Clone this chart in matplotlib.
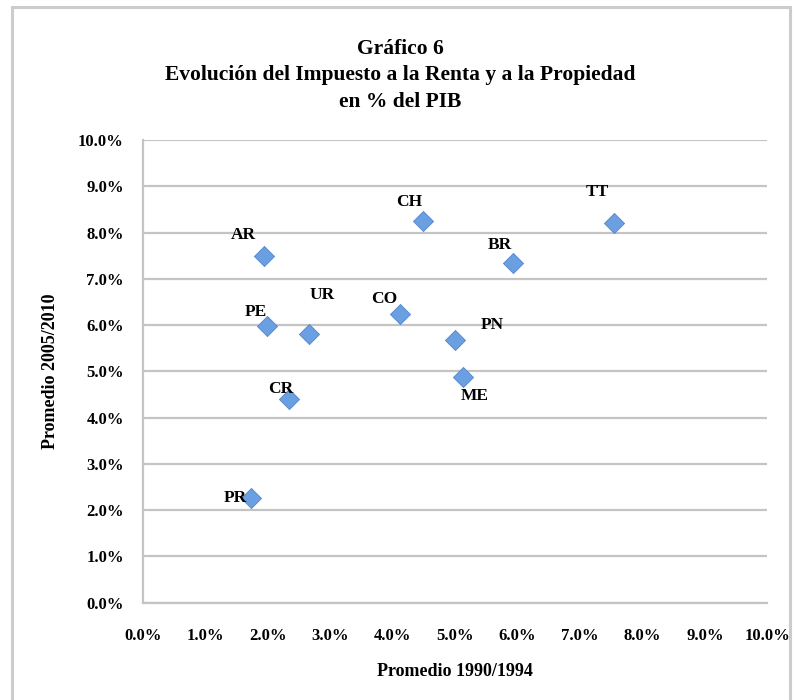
import matplotlib.pyplot as plt
from matplotlib import rc
from matplotlib.patches import Rectangle
from matplotlib.ticker import PercentFormatter

rc('font', family='Liberation Serif', weight='bold')

# Datos: promedio 1990/1994 (x) y promedio 2005/2010 (y), en % del PIB
paises = ['AR', 'CH', 'TT', 'BR', 'PE', 'UR', 'CO', 'PN', 'ME', 'CR', 'PR']
prom_1990_1994 = [1.94, 4.48, 7.54, 5.92, 1.99, 2.66, 4.11, 4.99, 5.12, 2.33, 1.72]
prom_2005_2010 = [7.49, 8.25, 8.21, 7.34, 5.98, 5.81, 6.24, 5.68, 4.88, 4.41, 2.27]

# desplazamiento de cada etiqueta (puntos)
offsets = {'AR': (-15, 15), 'CH': (-10, 14), 'TT': (-12, 22), 'BR': (-9, 13),
           'PE': (-8, 10), 'UR': (9, 28), 'CO': (-11, 11), 'PN': (27, 11),
           'ME': (9, -14), 'CR': (-6, 7), 'PR': (-11, 0)}

fig = plt.figure(figsize=(8, 7), dpi=100)
fig.patches.append(Rectangle((0.015, -0.05), 0.972, 1.04, transform=fig.transFigure,
                             fill=False, edgecolor='#cccccc', linewidth=2.2))

ax = fig.add_axes([0.179, 0.139, 0.780, 0.661])
ax.scatter(prom_1990_1994, prom_2005_2010, marker='D', s=105, color='#6a9fe2',
           edgecolor='#5585c8', linewidth=0.6, zorder=3)

for p, x, y in zip(paises, prom_1990_1994, prom_2005_2010):
    ax.annotate(p, (x, y), xytext=offsets[p], textcoords='offset points',
                ha='center', va='center', fontsize=12.5, fontweight='bold', zorder=4)

ax.set_xlim(0, 10)
ax.set_ylim(0, 10)
ax.set_xticks(range(0, 11))
ax.set_yticks(range(0, 11))
ax.xaxis.set_major_formatter(PercentFormatter(decimals=1))
ax.yaxis.set_major_formatter(PercentFormatter(decimals=1))
ax.tick_params(length=0, labelsize=12)
ax.tick_params(axis='x', pad=18)
ax.tick_params(axis='y', pad=14)

ax.grid(axis='y', color='#c4c4c4', linewidth=1.6)
ax.set_axisbelow(True)
for s in ['top', 'right']:
    ax.spines[s].set_visible(False)
for s in ['left', 'bottom']:
    ax.spines[s].set_color('#c4c4c4')
    ax.spines[s].set_linewidth(1.6)

ax.set_xlabel('Promedio 1990/1994', fontsize=13, fontweight='bold', labelpad=14)
ax.set_ylabel('Promedio 2005/2010', fontsize=13, fontweight='bold', labelpad=14)

fig.text(0.5, 0.945, 'Gráfico 6\nEvolución del Impuesto a la Renta y a la Propiedad\nen % del PIB',
         ha='center', va='top', fontsize=15.5, fontweight='bold', linespacing=1.45)

plt.savefig('out.png', dpi=100)
